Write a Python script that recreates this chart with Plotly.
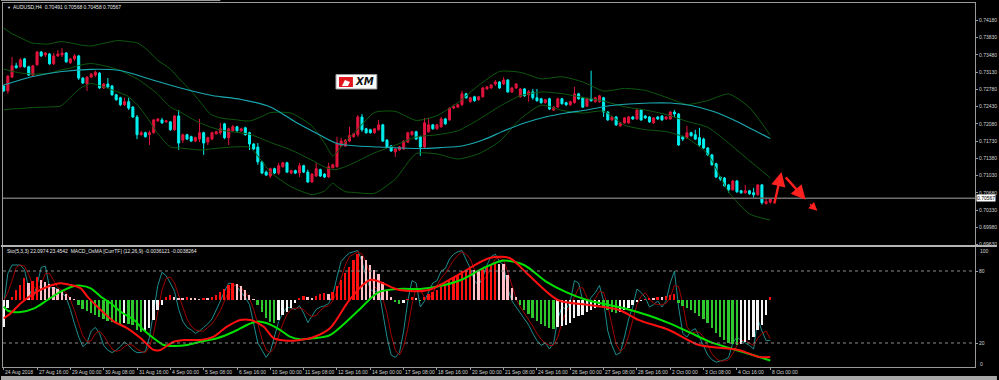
import plotly.graph_objects as go

W, H = 999, 380
ML, MR, MT, MB = 2, 22, 3, 13
PW, PH = W - ML - MR, H - MT - MB

def fx(px):
    return (px - ML) / PW

def fy(py):
    return (H - MB - py) / PH

# ---------------- data ----------------
title_text = "AUDUSD,H4  0.70491 0.70568 0.70458 0.70567"
sub_text = "Sto(5,3,3) 22.0974 23.4542  MACD_OsMA [CurrTF] (12,26,9) -0.0036121 -0.0038264"
last_price = 0.70567

opens = [.7285,.7275,.7303,.7326,.7324,.7340,.7324,.7307,.7328,.7354,.7348,.7350,.7330,.7346,.7348,.7352,.7332,.7340,.7346,.7301,
         .7289,.7303,.7307,.7311,.7281,.7289,.7285,.7267,.7261,.7247,.7253,.7242,.7222,.7186,.7190,.7186,.7190,.7214,.7216,.7212,
         .7212,.7196,.7224,.7175,.7186,.7182,.7173,.7177,.7190,.7171,.7177,.7188,.7190,.7208,.7180,.7194,.7202,.7194,.7200,.7190,
         .7167,.7161,.7131,.7110,.7102,.7117,.7108,.7121,.7129,.7108,.7113,.7108,.7123,.7110,.7090,.7102,.7115,.7106,.7100,.7119,
         .7121,.7163,.7163,.7173,.7182,.7186,.7222,.7198,.7196,.7190,.7196,.7206,.7175,.7163,.7151,.7155,.7157,.7171,.7186,.7192,
         .7182,.7161,.7192,.7206,.7198,.7202,.7218,.7216,.7240,.7242,.7247,.7269,.7253,.7263,.7257,.7263,.7279,.7281,.7289,.7293,
         .7289,.7297,.7273,.7281,.7263,.7279,.7267,.7273,.7261,.7259,.7251,.7259,.7236,.7242,.7259,.7251,.7247,.7251,.7269,.7261,
         .7244,.7259,.7253,.7253,.7261,.7232,.7216,.7222,.7204,.7210,.7210,.7222,.7218,.7236,.7224,.7222,.7210,.7222,.7224,.7218,
         .7218,.7232,.7228,.7182,.7180,.7190,.7186,.7180,.7177,.7159,.7145,.7127,.7100,.7098,.7084,.7074,.7092,.7072,.7068,.7072,
         .7068,.7064,.7084,.7046,.70491]
highs = [.7287,.7307,.7344,.7332,.7342,.7342,.7326,.7328,.7356,.7356,.7354,.7352,.7352,.7358,.7362,.7354,.7342,.7350,.7348,.7303,
         .7305,.7311,.7316,.7313,.7291,.7301,.7287,.7269,.7263,.7261,.7261,.7244,.7226,.7194,.7192,.7194,.7218,.7220,.7220,.7216,
         .7214,.7226,.7236,.7188,.7188,.7184,.7182,.7218,.7192,.7182,.7192,.7194,.7210,.7210,.7200,.7206,.7204,.7200,.7202,.7192,
         .7169,.7169,.7133,.7113,.7119,.7119,.7129,.7131,.7131,.7115,.7115,.7129,.7125,.7115,.7108,.7129,.7117,.7108,.7129,.7127,
         .7182,.7180,.7177,.7202,.7190,.7226,.7228,.7200,.7198,.7200,.7216,.7208,.7177,.7165,.7159,.7163,.7175,.7192,.7194,.7194,
         .7184,.7220,.7220,.7208,.7208,.7222,.7220,.7242,.7247,.7249,.7275,.7271,.7263,.7265,.7265,.7283,.7285,.7289,.7297,.7295,
         .7303,.7299,.7283,.7291,.7281,.7281,.7277,.7279,.7279,.7261,.7259,.7261,.7244,.7261,.7261,.7253,.7255,.7283,.7271,.7263,
         .7261,.7316,.7263,.7267,.7263,.7234,.7224,.7224,.7212,.7222,.7224,.7224,.7238,.7238,.7226,.7224,.7222,.7224,.7226,.7224,
         .7234,.7236,.7230,.7184,.7204,.7192,.7196,.7200,.7180,.7161,.7147,.7129,.7102,.7100,.7086,.7094,.7094,.7074,.7084,.7074,
         .7078,.7086,.7086,.7056,.70568]
lows = [.7273,.7269,.7301,.7320,.7322,.7322,.7305,.7305,.7326,.7344,.7344,.7328,.7328,.7344,.7344,.7332,.7330,.7336,.7297,.7289,
        .7275,.7301,.7303,.7279,.7279,.7281,.7265,.7255,.7244,.7244,.7236,.7220,.7177,.7184,.7180,.7165,.7188,.7212,.7208,.7210,
        .7194,.7194,.7155,.7169,.7175,.7171,.7171,.7171,.7145,.7165,.7175,.7186,.7186,.7177,.7165,.7192,.7192,.7192,.7184,.7155,
        .7155,.7125,.7106,.7102,.7098,.7106,.7104,.7119,.7108,.7106,.7106,.7100,.7108,.7088,.7088,.7100,.7100,.7098,.7098,.7117,
        .7119,.7161,.7161,.7171,.7180,.7182,.7192,.7188,.7188,.7188,.7194,.7171,.7159,.7151,.7141,.7153,.7155,.7169,.7184,.7175,
        .7143,.7159,.7190,.7196,.7196,.7200,.7206,.7214,.7238,.7240,.7244,.7259,.7251,.7253,.7255,.7261,.7277,.7279,.7285,.7279,
        .7287,.7271,.7271,.7279,.7261,.7263,.7253,.7257,.7253,.7249,.7249,.7236,.7234,.7240,.7247,.7244,.7244,.7249,.7257,.7240,
        .7242,.7253,.7251,.7251,.7222,.7214,.7214,.7204,.7202,.7208,.7208,.7216,.7216,.7214,.7218,.7210,.7208,.7216,.7214,.7216,
        .7216,.7222,.7163,.7173,.7177,.7182,.7175,.7161,.7157,.7143,.7123,.7098,.7092,.7080,.7068,.7072,.7068,.7066,.7066,.7064,
        .7058,.7062,.7044,.7044,.70458]
closes = [.7275,.7305,.7326,.7322,.7338,.7324,.7307,.7326,.7354,.7346,.7352,.7330,.7346,.7350,.7352,.7334,.7340,.7346,.7301,.7291,
          .7303,.7309,.7313,.7281,.7289,.7283,.7267,.7257,.7247,.7253,.7240,.7222,.7186,.7190,.7182,.7190,.7216,.7218,.7210,.7214,
          .7196,.7224,.7169,.7186,.7177,.7173,.7180,.7190,.7169,.7180,.7190,.7192,.7198,.7180,.7198,.7202,.7194,.7198,.7186,.7167,
          .7157,.7131,.7108,.7104,.7117,.7108,.7123,.7129,.7110,.7113,.7108,.7123,.7110,.7090,.7106,.7117,.7102,.7100,.7121,.7125,
          .7169,.7173,.7175,.7184,.7188,.7222,.7196,.7190,.7190,.7198,.7206,.7173,.7161,.7153,.7157,.7161,.7173,.7190,.7192,.7177,
          .7161,.7210,.7206,.7198,.7206,.7218,.7208,.7240,.7244,.7247,.7269,.7261,.7261,.7255,.7263,.7281,.7283,.7287,.7293,.7281,
          .7297,.7273,.7281,.7289,.7279,.7265,.7273,.7261,.7255,.7251,.7257,.7238,.7242,.7259,.7249,.7247,.7253,.7269,.7259,.7242,
          .7259,.7255,.7261,.7265,.7232,.7216,.7222,.7206,.7210,.7220,.7222,.7218,.7236,.7216,.7220,.7212,.7220,.7218,.7216,.7222,
          .7232,.7228,.7165,.7177,.7190,.7184,.7177,.7165,.7159,.7145,.7125,.7100,.7096,.7082,.7074,.7092,.7070,.7068,.7072,.7066,
          .7064,.7084,.7048,.7050,.70567]

# Bollinger bands (20,2) read at sample bars
bb_bar = [0, 1.7, 4.1, 6.8, 10.8, 13.7, 16.1, 18.5, 20.9, 23.3, 27.4, 29.7, 32.1, 34.5, 36.9, 40, 42.4, 44.8, 47.2, 49.6,
          52, 55.1, 59, 62, 64, 69, 74, 77, 79, 80, 82, 84, 89, 94, 99, 104, 109, 114, 119, 124,
          129, 134, 139, 144, 149, 154, 159, 164, 169, 174, 179, 184]
bb_upper = [0.74027, 0.73926, 0.73824, 0.73723, 0.73702, 0.73753, 0.73723, 0.73682, 0.73662, 0.73702, 0.73773, 0.73753, 0.73723, 0.73580, 0.73377, 0.73194, 0.72971, 0.72768, 0.72524, 0.72280,
            0.72199, 0.72169, 0.72138, 0.72230, 0.72309, 0.72297, 0.72037, 0.71691, 0.71425, 0.71508, 0.71718, 0.71882, 0.72311, 0.72333, 0.72150, 0.72248, 0.72512, 0.72861, 0.73144, 0.73127,
            0.72995, 0.73036, 0.72932, 0.72746, 0.72800, 0.72760, 0.72620, 0.72473, 0.72555, 0.72687, 0.72412, 0.71848]
bb_mid = [0.73194, 0.73154, 0.73113, 0.73093, 0.73103, 0.73174, 0.73215, 0.73276, 0.73306, 0.73276, 0.73184, 0.73093, 0.72991, 0.72849, 0.72687, 0.72423, 0.72321, 0.72199, 0.72098, 0.72016,
          0.71955, 0.71915, 0.71870, 0.71775, 0.71703, 0.71549, 0.71340, 0.71204, 0.71149, 0.71155, 0.71210, 0.71285, 0.71490, 0.71647, 0.71813, 0.71858, 0.71939, 0.72167, 0.72433, 0.72652,
          0.72727, 0.72695, 0.72616, 0.72542, 0.72427, 0.72362, 0.72270, 0.72132, 0.72010, 0.71691, 0.71332, 0.70986]
bb_lower = [0.72362, 0.72382, 0.72392, 0.72412, 0.72423, 0.72443, 0.72626, 0.72809, 0.72900, 0.72849, 0.72727, 0.72646, 0.72463, 0.72199, 0.71894, 0.71610, 0.71590, 0.71569, 0.71549, 0.71569,
            0.71590, 0.71610, 0.71602, 0.71320, 0.71098, 0.70802, 0.70643, 0.70716, 0.70873, 0.70810, 0.70702, 0.70688, 0.70670, 0.70960, 0.71476, 0.71468, 0.71366, 0.71472, 0.71722, 0.72177,
            0.72459, 0.72353, 0.72299, 0.72339, 0.72053, 0.71963, 0.71921, 0.71791, 0.71466, 0.70696, 0.70251, 0.70125]

# moving average (cyan)
ma_bar = [0, 7, 14, 21, 28, 35, 42, 50, 57, 64, 70, 75, 80, 85, 90, 95, 100, 105, 110, 115,
          120, 125, 130, 135, 140, 145, 150, 155, 160, 165, 170, 175, 180, 184]
ma_val = [0.72869, 0.73042, 0.73144, 0.73188, 0.73164, 0.72991, 0.72819, 0.72656, 0.72575, 0.72423, 0.72118, 0.71894, 0.71681, 0.71630, 0.71610, 0.71590, 0.71580, 0.71600, 0.71630, 0.71752,
          0.71935, 0.72098, 0.72219, 0.72301, 0.72362, 0.72443, 0.72483, 0.72504, 0.72504, 0.72453, 0.72341, 0.72169, 0.71955, 0.71783]

# Stochastic (5,3,3)
sto_main = [52,78,85,85,85,81,66,57,68,83,84,66,66,65,62,58,48,36,25,17,
            20,30,33,28,18,14,12,14,17,21,18,14,12,12,13,25,45,68,79,76,
            70,63,48,38,33,31,28,30,33,36,40,47,55,63,70,69,67,62,58,52,
            35,20,14,8,13,26,38,45,50,49,48,51,45,37,43,48,50,51,53,60,
            75,88,92,95,96,97,88,75,65,62,65,45,25,10,8,12,30,55,72,70,
            50,55,62,70,72,80,82,90,94,96,97,90,82,72,68,75,85,92,94,88,
            85,65,55,50,45,40,35,28,22,18,20,15,20,40,50,48,55,72,70,55,
            50,58,62,68,55,30,18,10,12,25,40,50,65,62,58,50,52,55,50,55,
            70,80,50,28,25,30,32,25,18,10,6,4,5,6,8,20,25,22,20,18,
            15,40,30,22,22.1]
sto_signal = [55,62,72,83,85,84,77,68,64,69,78,78,72,66,64,62,56,47,36,26,
              21,22,28,30,26,20,15,13,14,17,19,18,15,13,12,17,28,46,64,74,
              75,70,60,50,40,34,31,30,30,33,36,41,47,55,63,67,69,66,62,57,
              48,36,23,14,12,16,26,36,44,48,49,49,48,44,42,43,47,50,51,55,
              63,74,85,92,94,96,94,87,76,67,64,57,45,27,14,10,17,32,52,66,
              64,58,56,62,68,74,78,84,89,93,96,94,90,81,74,72,76,84,90,91,
              89,79,68,57,50,45,40,34,28,23,20,18,18,25,37,46,51,58,66,66,
              58,54,57,63,62,51,34,19,13,16,26,38,52,59,62,57,53,52,52,53,
              58,68,67,53,34,28,29,29,25,18,11,7,5,5,6,11,18,22,22,20,
              18,24,28,30,23.5]

# MACD main / signal, units of 0.0001
macd_main_bar = [0, 1.7, 4.1, 7.3, 10.5, 13.7, 16.1, 18.5, 20.1, 23.3, 26.5, 29.7, 32.9, 36, 37.6, 40.8, 44, 47.2, 50.4, 53.6,
                 56.8, 59.2, 62.4, 64.8, 68, 71.1, 74.3, 78.3, 83, 88, 95, 102, 109, 116.6, 121.4, 126, 133, 140.5, 147.7, 152.5,
                 159.7, 166.9, 176.4, 181.2, 184]
macd_main = [-11.6, -8.4, -2.1, 4.2, 8.4, 10.6, 9.5, 7.4, 2.1, -6.3, -13.7, -17.9, -24.2, -31.6, -31.6, -26.4, -25.3, -25.3, -23.2, -16.9,
             -12.7, -12.7, -16.9, -24.2, -25.8, -25.3, -23.6, -17.9, 0.0, 12.7, 6.3, 6.3, 15.8, 26.6, 26.6, 15.8, 0.0, -3.2, -6.3, -12.7,
             -19.0, -28.5, -31.6, -36.0, -36.121]
macd_sig_bar = [0, 1, 4.1, 7.3, 10.5, 13.7, 16.9, 18.5, 20.9, 23.3, 25.7, 28.1, 31.3, 33.6, 36, 38.4, 40.8, 44, 47.2, 51.2,
                55.2, 58.4, 60.8, 63.2, 66.4, 68.7, 71.1, 74.3, 78.3, 85, 90, 95, 100, 105, 110, 115, 120, 125, 130, 135,
                140, 145, 150, 155, 160, 165, 170, 175, 180, 184]
macd_signal = [-4.2, -6.8, -7.6, -5.3, 0.0, 5.3, 8.9, 9.1, 7.4, 2.1, -2.1, -7.4, -12.7, -19.0, -24.2, -28.5, -29.1, -28.5, -26.4, -24.2,
               -20.1, -15.8, -13.7, -14.7, -19.0, -23.2, -24.9, -24.2, -22.2, -7.0, 5.0, 7.0, 7.0, 9.0, 13.0, 20.0, 25.0, 22.0, 12.0, 5.0,
               0.0, -3.0, -6.0, -10.0, -15.0, -21.0, -27.0, -31.0, -35.0, -38.264]

# OsMA histogram (display units)
osma = [-17.1,-5.1,1.9,6.3,9.5,13.9,10.8,12.0,14.6,12.7,11.4,10.1,8.2,7.0,5.7,3.8,1.9,0.6,-3.2,-5.7,
        -7.0,-8.2,-9.5,-10.8,-12.0,-13.3,-13.9,-14.6,-15.2,-14.6,-15.2,-15.8,-19.0,-20.3,-19.6,-17.7,-12.7,-6.3,-3.2,1.9,
        3.2,1.9,1.3,1.3,1.9,1.3,1.3,0.6,1.3,1.3,1.9,3.2,5.1,7.0,9.5,10.8,10.1,8.9,6.3,3.2,
        0.6,-3.2,-7.6,-11.4,-13.9,-14.6,-12.7,-9.5,-7.6,-5.1,-1.9,1.3,2.5,1.9,1.3,2.5,3.8,4.4,3.8,5.1,
        8.9,12.7,17.1,20.9,25.3,29.1,27.8,25.3,22.2,19.0,16.5,11.4,6.3,1.9,-1.3,-2.5,-1.9,0.6,1.9,1.3,
        -0.6,1.9,3.8,5.1,6.3,8.2,9.5,12.0,13.9,15.8,18.4,19.0,19.6,19.0,18.4,19.6,20.9,22.2,23.4,22.8,
        22.8,15.8,7.6,1.9,-3.2,-6.3,-8.9,-11.4,-13.3,-15.2,-16.5,-17.7,-18.4,-17.1,-16.5,-15.8,-14.6,-11.4,-10.1,-9.5,
        -7.6,-6.3,-5.1,-3.2,-4.4,-6.3,-7.6,-8.2,-7.6,-6.3,-5.1,-3.2,-1.3,-0.6,0.6,1.3,1.3,1.9,1.9,2.5,
        3.2,3.8,-1.9,-3.8,-5.1,-6.3,-8.2,-10.1,-12.0,-14.6,-17.7,-20.9,-23.4,-25.3,-27.2,-27.8,-28.5,-27.8,-26.6,-25.3,
        -23.4,-19.0,-15.8,-9.5,2.1]

price_ticks = [0.74180, 0.73830, 0.73480, 0.73130, 0.72780, 0.72430, 0.72080, 0.71730, 0.71380, 0.71030,
               0.70680, 0.70330, 0.69980, 0.69630]
sto_levels = [20, 80]
time_labels = ["24 Aug 2018", "27 Aug 16:00", "29 Aug 00:00", "30 Aug 08:00", "31 Aug 16:00", "4 Sep 00:00",
               "5 Sep 08:00", "6 Sep 16:00", "10 Sep 00:00", "11 Sep 08:00", "12 Sep 16:00", "14 Sep 00:00",
               "17 Sep 08:00", "18 Sep 16:00", "20 Sep 00:00", "21 Sep 08:00", "24 Sep 16:00", "26 Sep 00:00",
               "27 Sep 08:00", "28 Sep 16:00", "2 Oct 00:00", "3 Oct 08:00", "4 Oct 16:00", "8 Oct 00:00"]
bars_per_label = 8

# forecast arrows (bar, price) tail -> head
arrows = [((184.9, 0.70432), (186.7, 0.71104), 2.4),
          ((187.4, 0.71023), (192.5, 0.70536), 2.4),
          ((193.2, 0.70475), (195.3, 0.70313), 1.4)]

# ---------------- figure ----------------
bars = list(range(len(closes)))
label_bars = [i * bars_per_label for i in range(len(time_labels))]

PX_PER_BAR = 4.179
X0 = 2.7
x_rng = [(ML - X0) / PX_PER_BAR, (ML + PW - X0) / PX_PER_BAR]
P_SLOPE = 0.00020313
P_TOP0 = 0.74596
y_rng = [P_TOP0 - P_SLOPE * 245, P_TOP0 - P_SLOPE * 3]
macd_rng = [-(367 - 300) / 1.58, (300 - 247) / 1.58]

FRAME = "#9a9a9a"
TXT = "#d4d4d4"
FONT = "Liberation Sans"

fig = go.Figure()

fig.add_trace(go.Candlestick(
    x=bars, open=opens, high=highs, low=lows, close=closes,
    increasing=dict(line=dict(color="#e0143c", width=1), fillcolor="#e0143c"),
    decreasing=dict(line=dict(color="#00f0f0", width=1), fillcolor="#00f0f0"),
    whiskerwidth=0, xaxis="x", yaxis="y", showlegend=False))

for arr in (bb_upper, bb_mid, bb_lower):
    fig.add_trace(go.Scatter(x=bb_bar, y=arr, mode="lines",
                             line=dict(color="#0e5a0e", width=1, shape="spline", smoothing=0.6),
                             xaxis="x", yaxis="y", showlegend=False))
fig.add_trace(go.Scatter(x=ma_bar, y=ma_val, mode="lines",
                         line=dict(color="#1aa8b0", width=1.2, shape="spline", smoothing=0.8),
                         xaxis="x", yaxis="y", showlegend=False))

# histogram colors: rising/falling by sign
hist_colors = []
for i, v in enumerate(osma):
    prev = osma[i - 1] if i > 0 else v
    if v >= 0:
        hist_colors.append("#ff1010" if v > prev else "#ffc0c8")
    else:
        hist_colors.append("#2ec82e" if v < prev else "#f4f4f4")
fig.add_trace(go.Bar(x=bars, y=osma, marker=dict(color=hist_colors, line=dict(width=0)),
                     width=0.45, xaxis="x2", yaxis="y3", showlegend=False))

fig.add_trace(go.Scatter(x=bars, y=sto_main, mode="lines", line=dict(color="#1d8c8c", width=1),
                         xaxis="x2", yaxis="y2", showlegend=False))
fig.add_trace(go.Scatter(x=bars, y=sto_signal, mode="lines", line=dict(color="#a00000", width=1),
                         xaxis="x2", yaxis="y2", showlegend=False))
fig.add_trace(go.Scatter(x=macd_sig_bar, y=macd_signal, mode="lines",
                         line=dict(color="#00e000", width=2, shape="spline", smoothing=0.8),
                         xaxis="x2", yaxis="y3", showlegend=False))
fig.add_trace(go.Scatter(x=macd_main_bar, y=macd_main, mode="lines",
                         line=dict(color="#ff1010", width=2, shape="spline", smoothing=0.8),
                         xaxis="x2", yaxis="y3", showlegend=False))

shapes = []
shapes.append(dict(type="line", xref="x", yref="y", x0=x_rng[0], x1=x_rng[1], y0=last_price, y1=last_price,
                   line=dict(color="#6e6e6e", width=1.5)))
for lv in sto_levels:
    shapes.append(dict(type="line", xref="x2", yref="y2", x0=x_rng[0], x1=x_rng[1], y0=lv, y1=lv,
                       line=dict(color="#8a8a8a", width=1, dash="dot")))
shapes.append(dict(type="line", xref="paper", yref="paper", x0=fx(0), x1=fx(999), y0=fy(246), y1=fy(246),
                   line=dict(color="#b4b4b4", width=2)))
shapes.append(dict(type="rect", xref="paper", yref="paper", x0=fx(0), x1=fx(999), y0=fy(380), y1=fy(376),
                   fillcolor="#a8a8a8", line=dict(width=0)))
shapes.append(dict(type="line", xref="paper", yref="paper", x0=fx(0), x1=fx(220), y0=fy(0.5), y1=fy(0.5),
                   line=dict(color="#9a9a9a", width=1)))
# XM logo
shapes.append(dict(type="rect", xref="paper", yref="paper", x0=fx(336), x1=fx(377), y0=fy(89), y1=fy(74.5),
                   fillcolor="#ffffff", line=dict(color="#9a9a9a", width=1)))
shapes.append(dict(type="rect", xref="paper", yref="paper", x0=fx(339), x1=fx(353), y0=fy(87), y1=fy(77),
                   fillcolor="#e2161d", line=dict(width=0)))
shapes.append(dict(type="path", xref="paper", yref="paper",
                   path=f"M {fx(342)},{fy(86)} L {fx(345)},{fy(80)} L {fx(350)},{fy(82)} L {fx(348)},{fy(86)} Z",
                   fillcolor="#ffffff", line=dict(width=0)))

annotations = []
annotations.append(dict(xref="paper", yref="paper", x=fx(4), y=fy(7.3), text="▼", showarrow=False,
                        xanchor="left", yanchor="middle", font=dict(size=4, color=TXT, family=FONT)))
annotations.append(dict(xref="paper", yref="paper", x=fx(10.5), y=fy(7.3), text=title_text, showarrow=False,
                        xanchor="left", yanchor="middle", font=dict(size=5, color="#e8e8e8", family=FONT)))
annotations.append(dict(xref="paper", yref="paper", x=fx(4), y=fy(250.7), text=sub_text, showarrow=False,
                        xanchor="left", yanchor="middle", font=dict(size=5, color="#e8e8e8", family=FONT)))
annotations.append(dict(xref="paper", yref="paper", x=fx(365), y=fy(81.5), text="<b><i>XM</i></b>", showarrow=False,
                        xanchor="center", yanchor="middle", font=dict(size=10, color="#111111", family="DejaVu Sans")))
annotations.append(dict(xref="paper", yref="y", x=fx(978.5), y=last_price, text=f"{last_price:.5f}", showarrow=False,
                        xanchor="left", yanchor="middle", bgcolor="#ffffff", borderpad=0,
                        font=dict(size=5, color="#000000", family=FONT)))
annotations.append(dict(xref="paper", yref="paper", x=fx(980), y=fy(250.7), text="100", showarrow=False,
                        xanchor="left", yanchor="middle", font=dict(size=5, color=TXT, family=FONT)))
annotations.append(dict(xref="paper", yref="paper", x=fx(980), y=fy(364), text="0", showarrow=False,
                        xanchor="left", yanchor="middle", font=dict(size=5, color=TXT, family=FONT)))
for b, t in zip(label_bars, time_labels):
    annotations.append(dict(xref="x2", yref="paper", x=b, y=fy(372), text=t, showarrow=False,
                            xanchor="left", yanchor="middle", xshift=-0.5,
                            font=dict(size=5, color=TXT, family=FONT)))
for (tx, ty), (hx, hy), w in arrows:
    annotations.append(dict(xref="x", yref="y", axref="x", ayref="y", x=hx, y=hy, ax=tx, ay=ty, text="",
                            showarrow=True, arrowhead=2, arrowsize=1.2, arrowwidth=w, arrowcolor="#ff2020"))

axis_common = dict(showgrid=False, zeroline=False, showline=True, mirror=True, linecolor=FRAME, linewidth=1)

fig.update_layout(
    width=W, height=H, margin=dict(l=ML, r=MR, t=MT, b=MB),
    paper_bgcolor="#000000", plot_bgcolor="#000000",
    showlegend=False, bargap=0, hovermode=False,
    xaxis=dict(domain=[0, 1], range=x_rng, anchor="y", showticklabels=False, ticks="",
               rangeslider=dict(visible=False), **axis_common),
    yaxis=dict(domain=[fy(245), 1], range=y_rng, anchor="x", side="right",
               tickvals=price_ticks, ticktext=[f"{v:.5f}" for v in price_ticks],
               ticks="outside", ticklen=2, tickcolor=FRAME,
               tickfont=dict(size=5, color=TXT, family=FONT), **axis_common),
    xaxis2=dict(domain=[0, 1], range=x_rng, anchor="y2", showticklabels=False,
                ticks="outside", tickvals=label_bars, ticklen=2, tickcolor=FRAME, **axis_common),
    yaxis2=dict(domain=[0, fy(247)], range=[0, 100], anchor="x2", side="right",
                tickvals=sto_levels, ticks="outside", ticklen=2, tickcolor=FRAME,
                tickfont=dict(size=5, color=TXT, family=FONT), **axis_common),
    yaxis3=dict(range=macd_rng, overlaying="y2", anchor="x2", visible=False),
    shapes=shapes, annotations=annotations,
)

fig.write_html("out.html")
